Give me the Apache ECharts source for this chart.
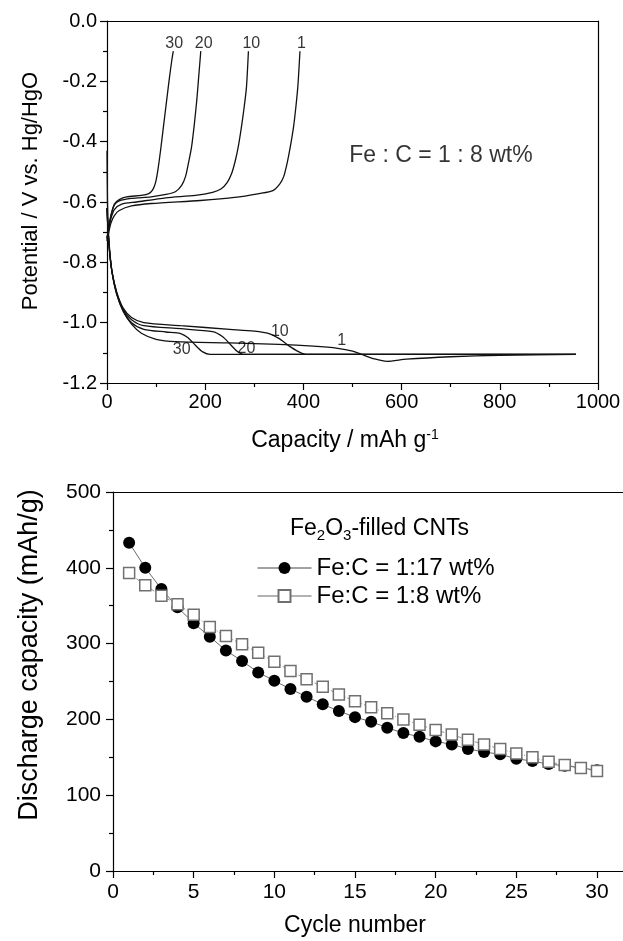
<!DOCTYPE html>
<html><head><meta charset="utf-8">
<script src="https://cdn.jsdelivr.net/npm/echarts/dist/echarts.min.js"></script>
<style>html,body{margin:0;padding:0;background:#fff}#c{width:623px;height:941px}</style>
</head><body><div id="c"></div>
<script>
// ---------- Top panel: potential profiles (capacity mAh/g, potential V) ----------
const charge1  = [[0,-0.73],[3,-0.705],[8,-0.67],[15,-0.645],[25,-0.628],[50,-0.613],[90,-0.605],[190,-0.595],[260,-0.585],[310,-0.572],[338,-0.562],[352,-0.54],[360,-0.515],[367,-0.47],[373,-0.42],[380,-0.35],[385,-0.28],[389,-0.21],[393,-0.10]];
const charge10 = [[0,-0.725],[3,-0.695],[8,-0.655],[15,-0.625],[30,-0.607],[60,-0.6],[120,-0.586],[180,-0.578],[215,-0.568],[232,-0.557],[245,-0.535],[254,-0.505],[261,-0.465],[267,-0.42],[273,-0.36],[279,-0.29],[284,-0.22],[288,-0.10]];
const charge20 = [[0,-0.72],[3,-0.69],[8,-0.645],[15,-0.61],[25,-0.596],[50,-0.588],[90,-0.583],[120,-0.575],[140,-0.565],[152,-0.545],[160,-0.515],[166,-0.47],[172,-0.42],[178,-0.34],[183,-0.26],[187,-0.18],[191,-0.10]];
const charge30 = [[0,-0.72],[3,-0.69],[8,-0.645],[15,-0.607],[25,-0.592],[40,-0.583],[70,-0.578],[85,-0.572],[93,-0.56],[99,-0.535],[104,-0.49],[109,-0.43],[115,-0.35],[121,-0.27],[127,-0.19],[132,-0.13],[135,-0.10]];
const dis1  = [[0,-0.43],[1,-0.6],[3,-0.7],[6,-0.77],[11,-0.84],[20,-0.908],[33,-0.963],[50,-1.005],[70,-1.035],[100,-1.055],[140,-1.063],[250,-1.067],[350,-1.072],[420,-1.078],[470,-1.085],[500,-1.094],[520,-1.106],[545,-1.12],[570,-1.128],[610,-1.121],[700,-1.113],[800,-1.108],[955,-1.105]];
const dis10 = [[0,-0.62],[2,-0.69],[5,-0.76],[10,-0.83],[20,-0.9],[33,-0.952],[50,-0.983],[75,-1.0],[150,-1.01],[250,-1.022],[300,-1.028],[330,-1.036],[350,-1.052],[370,-1.076],[390,-1.096],[405,-1.105],[955,-1.105]];
const dis20 = [[0,-0.62],[2,-0.69],[5,-0.76],[10,-0.83],[20,-0.903],[33,-0.957],[50,-0.99],[75,-1.01],[150,-1.02],[215,-1.03],[235,-1.046],[250,-1.07],[265,-1.095],[278,-1.105],[955,-1.105]];
const dis30 = [[0,-0.62],[2,-0.69],[5,-0.76],[10,-0.83],[20,-0.905],[33,-0.96],[50,-1.0],[75,-1.022],[120,-1.031],[150,-1.036],[165,-1.05],[180,-1.075],[195,-1.097],[210,-1.105],[955,-1.105]];
const topCycleLabels = [['30',137,-0.074],['20',197,-0.074],['10',294,-0.074],['1',396,-0.074]];
const lowCycleLabels = [['30',152,-1.09],['20',284,-1.085],['10',352,-1.03],['1',478,-1.058]];
const topNote = ['Fe : C = 1 : 8 wt%', 680, -0.447];

// ---------- Bottom panel: discharge capacity vs cycle ----------
const cycles = Array.from({length:30},(_,i)=>i+1);
const cap17 = [433,400,372,348,327,309,291,277,262,251,240,230,220,211,203,197,189,182,177,171,167,161,157,154,148,145,141,139,136,133];
const cap8  = [393,377,363,352,338,322,310,299,288,276,264,253,243,233,224,216,208,200,193,186,180,173,167,161,155,150,144,140,136,132];
const name17 = 'Fe:C = 1:17 wt%';
const name8  = 'Fe:C = 1:8 wt%';

const FONT = 'Liberation Sans, Arial, Helvetica, sans-serif';
const K = '#000';

function frameAxis(type, pos, gi, extra){
  return Object.assign({type:'value', gridIndex:gi, position:pos,
    axisLine:{show:true,onZero:false,lineStyle:{color:K,width:1.2}},
    axisTick:{show:false}, axisLabel:{show:false}, splitLine:{show:false}}, extra||{});
}

const curveStyle = {color:'#111', width:1.3};
function curve(d){ return {type:'line', xAxisIndex:0, yAxisIndex:0, data:d, showSymbol:false, smooth:0.25,
  lineStyle:curveStyle, itemStyle:{color:'#111'}, silent:true, z:3}; }

const option = {
  animation:false,
  backgroundColor:'#fff',
  textStyle:{fontFamily:FONT},
  grid:[
    {left:107, top:21, width:491, height:362, outerBoundsMode:'none', containLabel:false},
    {left:113, top:492, width:16.133*35, height:379, outerBoundsMode:'none', containLabel:false}
  ],
  xAxis:[
    {type:'value', gridIndex:0, min:0, max:1000, interval:200, position:'bottom',
      axisLine:{show:true,onZero:false,lineStyle:{color:K,width:1.2}},
      axisTick:{show:true,inside:false,length:7,lineStyle:{color:K,width:1.2}},
      minorTick:{show:true,splitNumber:2,length:4,lineStyle:{color:K,width:1.2}},
      axisLabel:{color:K,fontSize:20,margin:9,fontFamily:FONT,formatter:v=>String(v)},
      splitLine:{show:false}, minorSplitLine:{show:false}},
    frameAxis('value','top',0,{min:0,max:1000}),
    {type:'value', gridIndex:1, min:0, max:35, interval:5, position:'bottom',
      axisLine:{show:true,onZero:false,lineStyle:{color:K,width:1.2}},
      axisTick:{show:true,inside:false,length:7,lineStyle:{color:K,width:1.2}},
      minorTick:{show:true,splitNumber:2,length:4,lineStyle:{color:K,width:1.2}},
      axisLabel:{color:K,fontSize:21,margin:11,fontFamily:FONT,showMaxLabel:false},
      splitLine:{show:false}, minorSplitLine:{show:false}},
    frameAxis('value','top',1,{min:0,max:35})
  ],
  yAxis:[
    {type:'value', gridIndex:0, min:-1.2, max:0, interval:0.2, position:'left',
      axisLine:{show:true,onZero:false,lineStyle:{color:K,width:1.2}},
      axisTick:{show:true,inside:false,length:7,lineStyle:{color:K,width:1.2}},
      minorTick:{show:true,splitNumber:2,length:4,lineStyle:{color:K,width:1.2}},
      axisLabel:{color:K,fontSize:20,margin:10,fontFamily:FONT,formatter:v=>(Math.abs(v)<1e-9?'0.0':v.toFixed(1))},
      splitLine:{show:false}, minorSplitLine:{show:false}},
    frameAxis('value','right',0,{min:-1.2,max:0}),
    {type:'value', gridIndex:1, min:0, max:500, interval:100, position:'left',
      axisLine:{show:true,onZero:false,lineStyle:{color:K,width:1.2}},
      axisTick:{show:true,inside:false,length:7,lineStyle:{color:K,width:1.2}},
      minorTick:{show:true,splitNumber:2,length:4,lineStyle:{color:K,width:1.2}},
      axisLabel:{color:K,fontSize:21,margin:12,fontFamily:FONT},
      splitLine:{show:false}, minorSplitLine:{show:false}},
  ],
  legend:{
    orient:'vertical', left:252, top:551, itemWidth:54, itemHeight:15, itemGap:4,
    textStyle:{color:K,fontSize:24,fontFamily:FONT},
    data:[{name:name17, lineStyle:{type:'solid',color:'#444',width:1}},
          {name:name8, lineStyle:{type:'solid',color:'#666',width:1}}],
    selectedMode:false
  },
  graphic:[
    {type:'text', x:345, y:441, style:{text:'Capacity / mAh g{sup|-1}', fontSize:23, fontFamily:FONT, fill:K,
      align:'center', verticalAlign:'middle', lineHeight:26, rich:{sup:{fontSize:14, fontFamily:FONT, fill:K, verticalAlign:'top', lineHeight:14}}}},
    {type:'text', x:31, y:191, rotation:Math.PI/2, style:{text:'Potential / V vs. Hg/HgO', fontSize:22, fontFamily:FONT, fill:K, align:'center', verticalAlign:'middle'}},
    {type:'text', x:355, y:926, style:{text:'Cycle number', fontSize:23, fontFamily:FONT, fill:K, align:'center', verticalAlign:'middle'}},
    {type:'text', x:30, y:655, rotation:Math.PI/2, style:{text:'Discharge capacity (mAh/g)', fontSize:27, fontFamily:FONT, fill:K, align:'center', verticalAlign:'middle'}},
    {type:'text', x:290, y:529, style:{text:'Fe{sub|2}O{sub|3}-filled CNTs', fontSize:23, fontFamily:FONT, fill:K,
      align:'left', verticalAlign:'middle', lineHeight:28, rich:{sub:{fontSize:15, fontFamily:FONT, fill:K, verticalAlign:'bottom', lineHeight:15}}}}
  ],
  series:[
    curve(dis1), curve(dis10), curve(dis20), curve(dis30),
    curve(charge1), curve(charge10), curve(charge20), curve(charge30),
    {type:'scatter', xAxisIndex:0, yAxisIndex:0, symbolSize:0, silent:true, z:5,
      data:topCycleLabels.concat(lowCycleLabels).map(a=>({name:a[0], value:[a[1],a[2]]})),
      label:{show:true, position:'inside', formatter:'{b}', color:K, fontSize:16, fontFamily:FONT}},
    {type:'scatter', xAxisIndex:0, yAxisIndex:0, symbolSize:0, silent:true, z:5,
      data:[{name:topNote[0], value:[topNote[1],topNote[2]]}],
      label:{show:true, position:'inside', formatter:'{b}', color:K, fontSize:23, fontFamily:FONT}},
    {type:'line', name:name17, xAxisIndex:2, yAxisIndex:2, data:cycles.map((c,i)=>[c,cap17[i]]),
      symbol:'circle', symbolSize:12, showSymbol:true, showAllSymbol:true,
      itemStyle:{color:'#000', borderColor:'#000', borderWidth:0},
      lineStyle:{color:'#444', width:0.8}, z:3},
    {type:'line', name:name8, xAxisIndex:2, yAxisIndex:2, data:cycles.map((c,i)=>[c,cap8[i]]),
      symbol:'rect', symbolSize:11, showSymbol:true, showAllSymbol:true,
      itemStyle:{color:'#fff', borderColor:'#707070', borderWidth:1.5},
      lineStyle:{color:'#777', width:0.8, type:[4,2,1,2]}, z:4}
  ]
};
const chart = echarts.init(document.getElementById('c'), null, {renderer:'canvas'});
chart.setOption(option);
</script></body></html>
